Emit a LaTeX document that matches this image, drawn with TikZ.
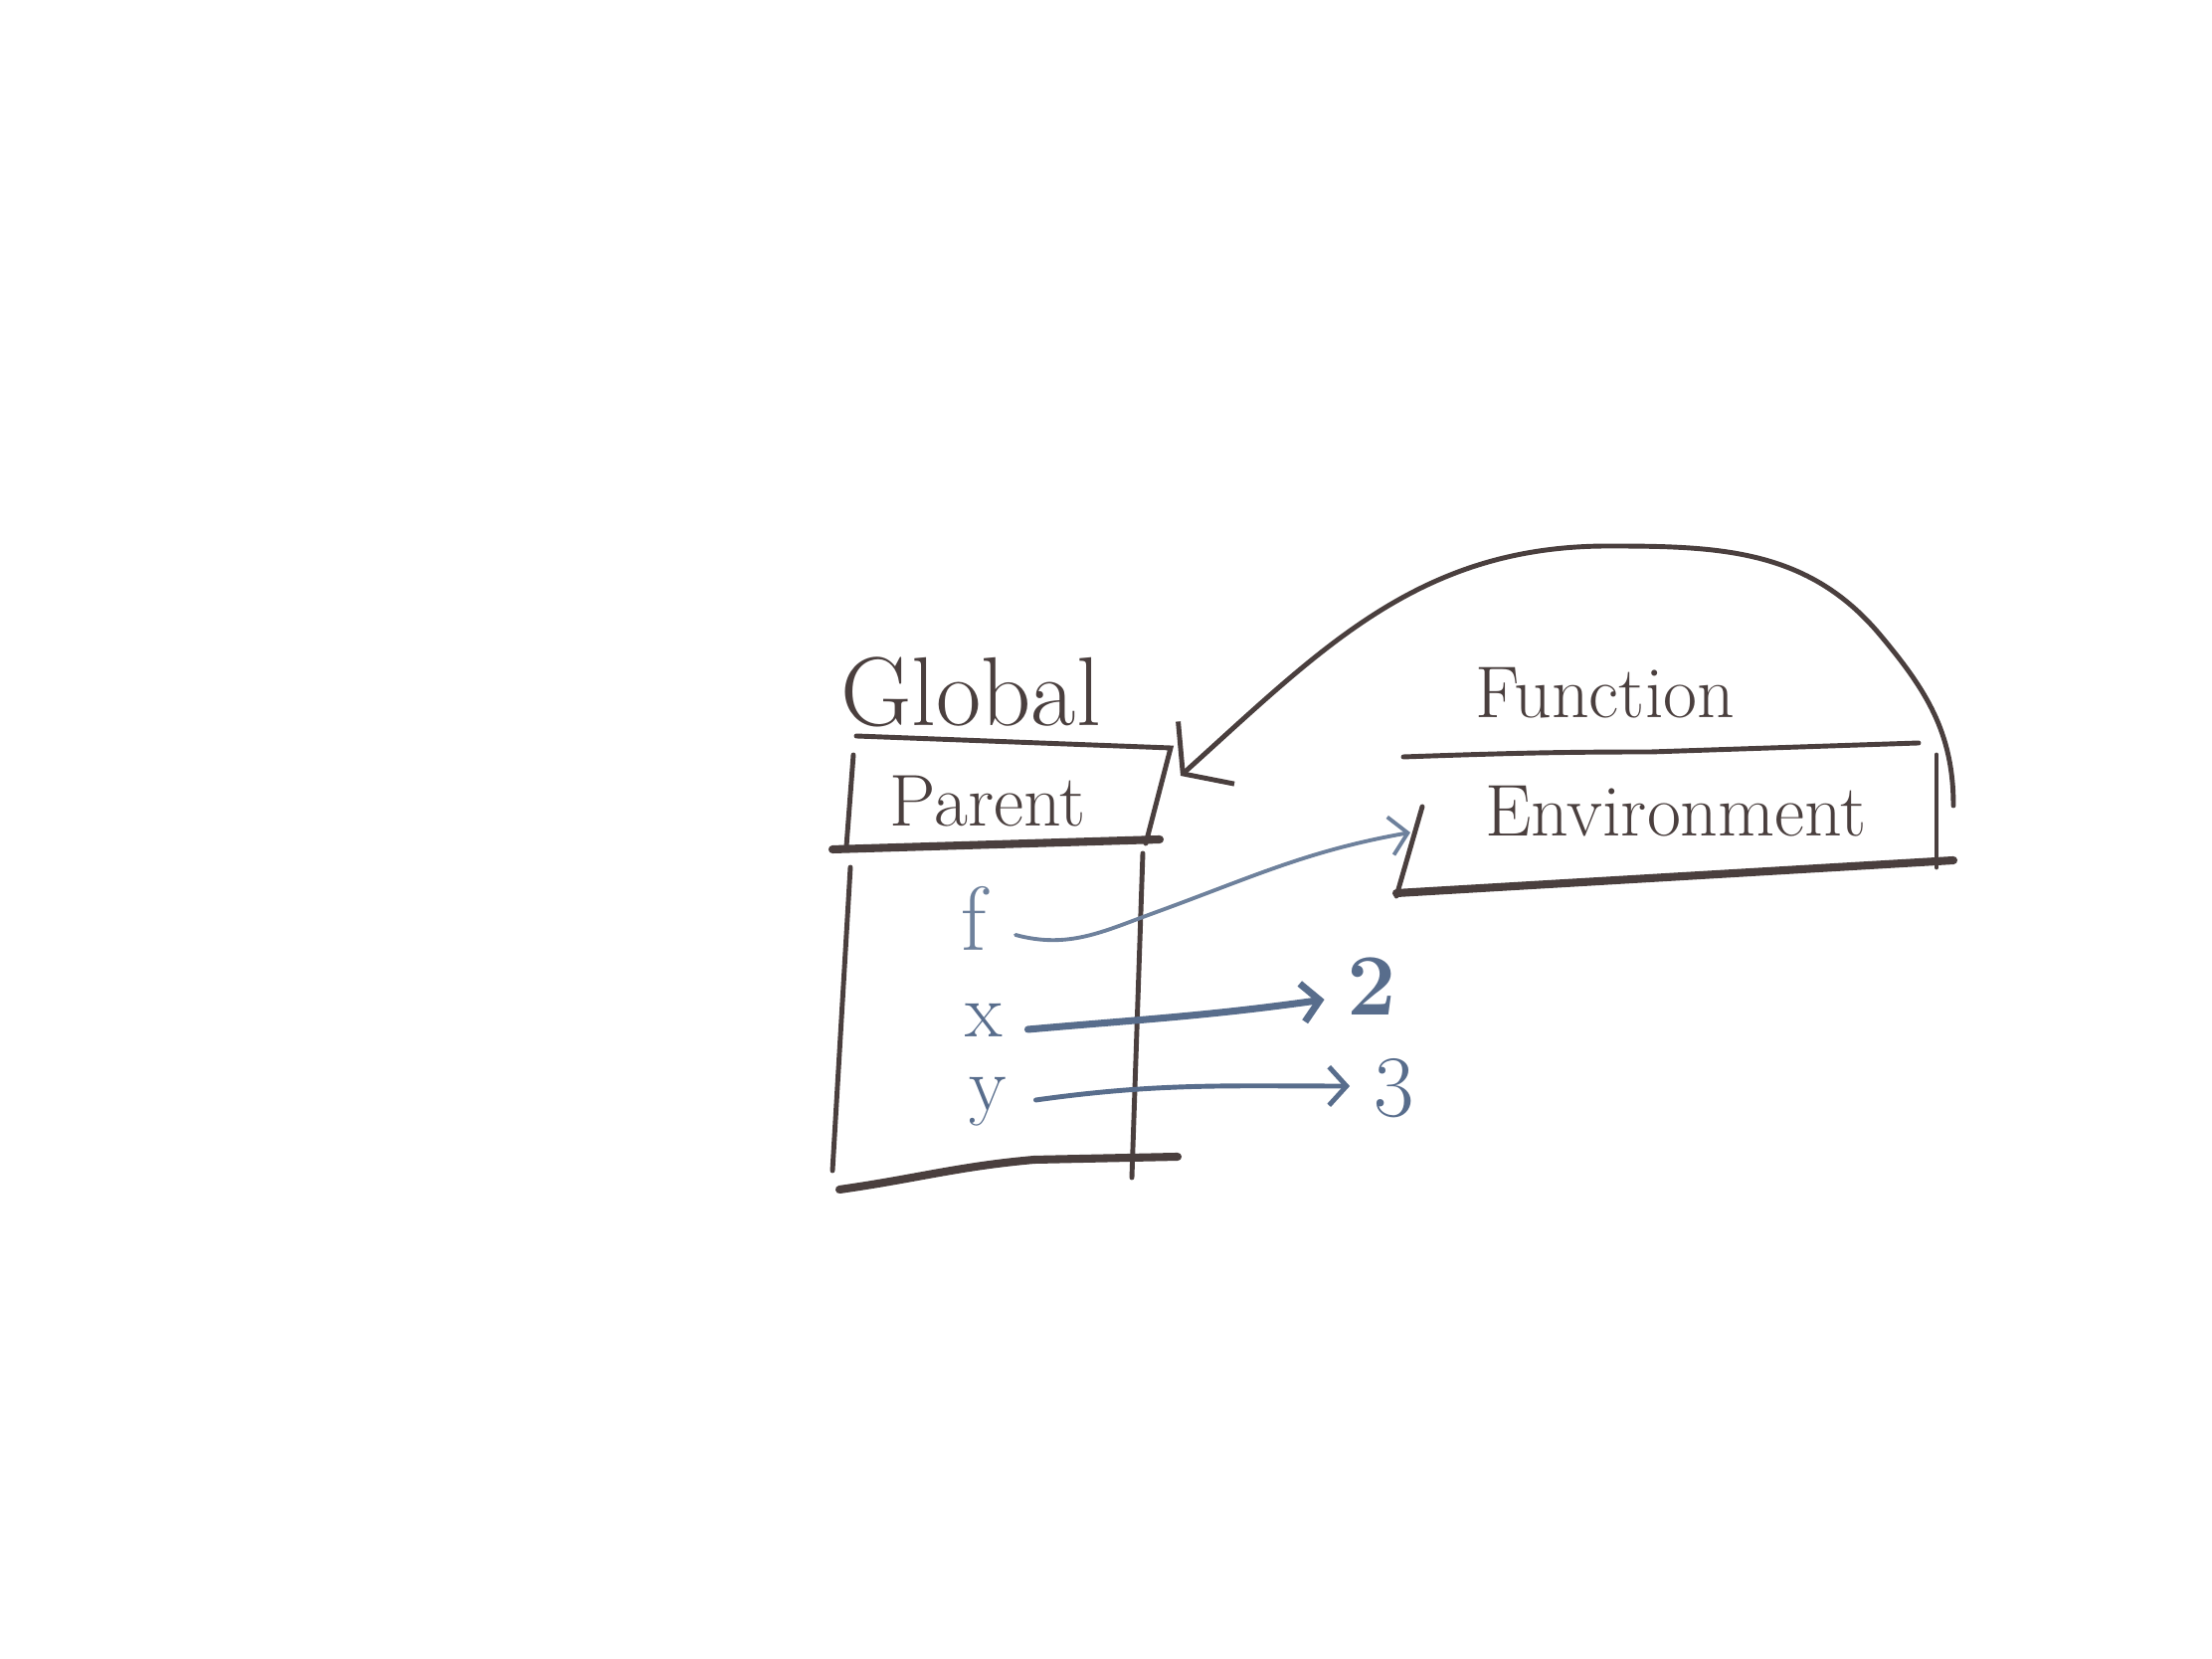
\documentclass[tikz,border=0pt]{standalone}
\usetikzlibrary{arrows.meta, positioning, calc}
\definecolor{ink}{HTML}{4A3F3E}
\definecolor{slate}{HTML}{586D8C}
\definecolor{paleslate}{HTML}{6E819C}

\begin{document}
\begin{tikzpicture}
	\tikzstyle{pen} = [ink, line width=1.4pt, line cap=round]
	\tikzstyle{heavy} = [ink, line width=2.3pt, line cap=round]
	\tikzstyle{hand} = [ink, inner sep=0pt, font=\fontsize{21}{25}\selectfont]
	\tikzstyle{entry} = [slate, inner sep=0pt, font=\fontsize{22}{24}\selectfont]
	\tikzstyle{ptr} = [slate, line cap=round, -{Straight Barb[length=5pt,width=11pt]}]
	
	\useasboundingbox (0,0) rectangle (22.24,16.68);
	
	% global frame
	\node[hand] (parent) at (9.93,8.62) {Parent};
	\node[hand, font=\fontsize{28}{32}\selectfont] (global) at (9.76,9.72) {Global};
	\node[entry, paleslate, font=\fontsize{26}{28}\selectfont] (f) at (9.79,7.45) {f};
	\node[entry] (x) at (9.89,6.42) {x};
	\node[entry] (y) at (9.93,5.60) {y};
	\draw[pen] (8.61,9.28) -- (11.77,9.16) -- (11.52,8.20);
	\draw[pen] (8.58,9.09) -- (8.51,8.17);
	\draw[heavy] (8.37,8.14) -- (11.66,8.24);
	\draw[pen] (8.55,7.96) -- (8.37,4.91);
	\draw[pen] (11.49,8.10) -- (11.38,4.84);
	\draw[heavy] (8.44,4.72) to[out=8,in=185] (10.4,5.02) -- (11.84,5.05);
	
	% function frame
	\node[hand] (function) at (16.14,9.71) {Function};
	\node[hand] (env) at (16.85,8.52) {Environment};
	\draw[pen] (14.11,9.07) to[out=2,in=180] (16.6,9.12) -- (19.29,9.21);
	\draw[pen] (14.30,8.57) -- (14.04,7.67);
	\draw[heavy] (14.04,7.70) -- (19.64,8.03);
	\draw[pen] (19.47,9.09) -- (19.47,7.96);
	
	% values
	\node[entry, font=\fontsize{25}{27}\selectfont\bfseries] (two) at (13.79,6.76) {2};
	\node[entry, font=\fontsize{25}{27}\selectfont] (three) at (14.02,5.74) {3};
	
	\coordinate (fstart) at (10.21,7.28);
	\coordinate (envin) at (14.18,8.31);
	\coordinate (envback) at (19.64,8.58);
	\coordinate (parenthook) at (11.87,8.88);
	
	\draw[ptr, paleslate, line width=1.1pt] (fstart) to[out=-15,in=200] (11.6,7.5) to[out=20,in=190] (envin);
	\draw[ptr, line width=2pt] ($(x.east)+(0.25,-0.09)$) to[out=5,in=188] ($(two.west)+(-0.22,-0.13)$);
	\draw[ptr, line width=1.4pt] ($(y.east)+(0.29,0.02)$) to[out=8,in=180] ($(three.west)+(-0.24,0.02)$);
	\draw[pen, -{Straight Barb[length=9pt,width=24pt]}] (envback) to[out=90,in=-50] (18.90,10.30) to[out=130,in=0] (16.17,11.19) to[out=180,in=42] (parenthook);
\end{tikzpicture}
\end{document}
